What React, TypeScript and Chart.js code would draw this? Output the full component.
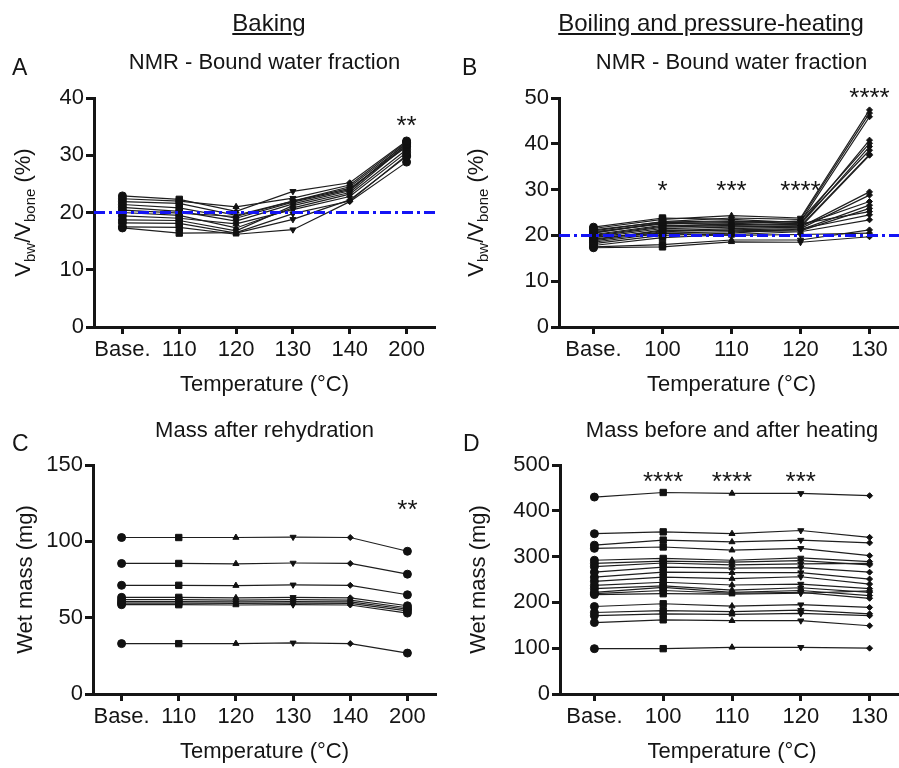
import React, { useEffect, useRef } from "react";
import { Chart, registerables } from "chart.js";

Chart.register(...registerables);

const FONT = '"Liberation Sans", Arial, Helvetica, sans-serif';
const INK = "#151515";

// ---------- categories ----------
const bakingCategories = ["Base.", "110", "120", "130", "140", "200"];
const boilingCategories = ["Base.", "100", "110", "120", "130"];

// ---------- tick settings ----------
const nmrBakingTicks = { max: 40, step: 10 };
const nmrBoilingTicks = { max: 50, step: 10 };
const massRehydTicks = { max: 150, step: 50 };
const massHeatTicks = { max: 500, step: 100 };

// ---------- A: NMR bound water fraction, baking (%) ----------
const nmrBaking: number[][] = [
  [22.9, 22.3, 20.2, 23.7, 25.2, 32.5],
  [22.4, 22.0, 21.0, 22.5, 24.8, 32.3],
  [21.9, 21.6, 19.5, 22.0, 24.5, 32.0],
  [21.4, 20.8, 19.0, 21.8, 24.0, 31.8],
  [20.9, 20.2, 18.5, 21.5, 23.8, 32.2],
  [20.4, 19.9, 19.3, 22.0, 24.2, 31.5],
  [20.0, 19.5, 17.3, 20.8, 23.2, 31.0],
  [19.4, 19.0, 18.0, 20.5, 22.8, 30.5],
  [18.7, 18.6, 16.8, 21.2, 23.5, 31.8],
  [18.2, 18.1, 16.4, 18.8, 22.2, 29.8],
  [17.5, 17.4, 16.2, 17.0, 21.9, 28.8],
  [17.3, 16.4, 16.5, 19.8, 22.0, 30.0],
];
const nmrBakingStars = ["", "", "", "", "", "**"];
const nmrBakingStarLevels = [0, 0, 0, 0, 0, 36.0];
const nmrBakingReference = 20;

// ---------- B: NMR bound water fraction, boiling/pressure (%) ----------
const nmrBoiling: number[][] = [
  [21.5, 23.5, 24.3, 23.8, 47.4],
  [21.0, 23.0, 23.8, 23.5, 46.7],
  [20.5, 22.8, 23.0, 23.0, 45.9],
  [20.8, 22.5, 22.8, 22.6, 40.8],
  [20.0, 22.0, 22.5, 23.2, 40.1],
  [19.8, 21.8, 22.2, 22.4, 39.4],
  [21.8, 23.8, 23.5, 22.8, 38.6],
  [19.5, 21.5, 21.8, 22.0, 37.7],
  [20.2, 22.2, 22.0, 21.8, 37.5],
  [19.2, 21.0, 21.5, 21.8, 29.5],
  [18.8, 20.8, 21.2, 21.5, 28.8],
  [20.6, 22.6, 22.4, 22.2, 27.4],
  [19.0, 21.2, 21.0, 21.2, 26.6],
  [18.5, 20.5, 20.8, 21.0, 25.9],
  [21.2, 22.9, 23.2, 22.5, 25.2],
  [18.2, 20.0, 20.5, 21.4, 24.5],
  [17.8, 19.5, 20.2, 20.8, 23.4],
  [17.5, 18.0, 19.0, 19.0, 21.2],
  [17.3, 17.5, 18.6, 18.5, 19.7],
  [19.6, 20.5, 20.0, 20.2, 20.5],
];
const nmrBoilingStars = ["", "*", "***", "****", "****"];
const nmrBoilingStarLevels = [0, 30.8, 30.8, 30.8, 51.2];
const nmrBoilingReference = 20;

// ---------- C: mass after rehydration (mg) ----------
const massRehyd: number[][] = [
  [102.5, 102.5, 102.5, 102.8, 102.5, 93.5],
  [85.5, 85.5, 85.3, 85.8, 85.5, 78.5],
  [71.2, 71.2, 71.0, 71.5, 71.2, 65.0],
  [63.3, 63.3, 63.0, 63.3, 63.0, 57.8],
  [61.8, 61.8, 61.5, 61.8, 61.5, 56.5],
  [60.5, 60.5, 60.3, 60.5, 60.3, 55.5],
  [59.5, 59.5, 59.3, 59.5, 59.3, 54.5],
  [58.5, 58.5, 58.3, 58.5, 58.3, 53.0],
  [33.0, 33.0, 33.0, 33.5, 33.0, 26.8],
];
const massRehydStars = ["", "", "", "", "", "**"];
const massRehydStarLevels = [0, 0, 0, 0, 0, 123.8];

// ---------- D: mass before and after heating (mg) ----------
const massHeat: number[][] = [
  [430, 440, 438, 438, 433],
  [350, 354, 350, 357, 342],
  [325, 336, 332, 336, 330],
  [318, 321, 314, 318, 302],
  [292, 296, 292, 297, 289],
  [285, 290, 288, 291, 282],
  [278, 286, 282, 284, 285],
  [266, 277, 275, 276, 266],
  [255, 266, 265, 265, 251],
  [246, 255, 252, 256, 240],
  [237, 244, 238, 240, 230],
  [230, 236, 227, 232, 222],
  [222, 233, 222, 226, 215],
  [219, 226, 220, 222, 209],
  [217, 219, 218, 220, 225],
  [191, 197, 192, 195, 189],
  [178, 182, 180, 183, 175],
  [171, 175, 174, 176, 171],
  [156, 162, 160, 160, 149],
  [99, 99, 102, 102, 100],
];
const massHeatStars = ["", "****", "****", "***", ""];
const massHeatStarLevels = [0, 474.8, 474.8, 474.8, 0];

// ---------- symbols per column (GraphPad style) ----------
const styles6 = ["circle", "rect", "triangle", "triangle", "rectRot", "circle"];
const rot6 = [0, 0, 0, 180, 0, 0];
const rad6 = [4, 4.5, 3.5, 3.5, 3, 4];
const styles5 = ["circle", "rect", "triangle", "triangle", "rectRot"];
const rot5 = [0, 0, 0, 180, 0];
const rad5 = [4, 4.5, 3.5, 3.5, 3];

const richYTitle = [
  { t: "V", sub: false },
  { t: "bw", sub: true },
  { t: "/V", sub: false },
  { t: "bone", sub: true },
  { t: " (%)", sub: false },
];

const extrasPlugin = {
  id: "panelExtras",
  afterDatasetsDraw(chart: any, _args: any, opts: any) {
    const { ctx, chartArea, scales } = chart;
    const x = scales.x;
    const y = scales.y;
    if (opts.refLine != null) {
      const py = y.getPixelForValue(opts.refLine);
      ctx.save();
      ctx.strokeStyle = "#1414f5";
      ctx.lineWidth = 3;
      ctx.setLineDash([11, 4, 3, 4]);
      ctx.beginPath();
      ctx.moveTo(chartArea.left, py);
      ctx.lineTo(chartArea.right, py);
      ctx.stroke();
      ctx.restore();
    }
  },
  afterDraw(chart: any, _args: any, opts: any) {
    const { ctx, chartArea, scales } = chart;
    const x = scales.x;
    const y = scales.y;
    if (opts.stars) {
      ctx.save();
      ctx.font = `26px ${FONT}`;
      ctx.fillStyle = INK;
      ctx.textAlign = "center";
      ctx.textBaseline = "alphabetic";
      const m = ctx.measureText("*");
      const off = (m.actualBoundingBoxAscent - m.actualBoundingBoxDescent) / 2;
      opts.stars.forEach((s: string, i: number) => {
        if (!s) return;
        const px = x.getPixelForValue(i);
        const py = y.getPixelForValue(opts.starLevels[i]);
        ctx.fillText(s, px, py + off);
      });
      ctx.restore();
    }
    if (opts.richTitleX != null) {
      ctx.save();
      const cy = (chartArea.top + chartArea.bottom) / 2;
      const main = `22px ${FONT}`;
      const small = `15px ${FONT}`;
      let total = 0;
      const widths = richYTitle.map((seg) => {
        ctx.font = seg.sub ? small : main;
        const w = ctx.measureText(seg.t).width;
        total += w;
        return w;
      });
      ctx.translate(opts.richTitleX, cy);
      ctx.rotate(-Math.PI / 2);
      ctx.fillStyle = INK;
      ctx.textBaseline = "alphabetic";
      ctx.textAlign = "left";
      let cx = -total / 2;
      richYTitle.forEach((seg, i) => {
        ctx.font = seg.sub ? small : main;
        ctx.fillText(seg.t, cx, seg.sub ? 5 : 0);
        cx += widths[i];
      });
      ctx.restore();
    }
  },
};

type PanelSpec = {
  labels: string[];
  series: number[][];
  ticks: { max: number; step: number };
  title: string;
  yTitle?: string;
  yTitlePad?: number;
  richTitleX?: number;
  refLine?: number;
  stars: string[];
  starLevels: number[];
  yWidth: number;
  xHeight: number;
  padding: { left: number; right: number; top: number; bottom: number };
  titlePad: { top: number; bottom: number };
  xTitlePadBottom: number;
};

function buildConfig(p: PanelSpec): any {
  const six = p.labels.length === 6;
  const datasets = p.series.map((s) => ({
    data: s,
    borderColor: "#1e1e1e",
    borderWidth: 1.2,
    pointStyle: six ? styles6 : styles5,
    pointRotation: six ? rot6 : rot5,
    pointRadius: six ? rad6 : rad5,
    pointBackgroundColor: "#111",
    pointBorderColor: "#111",
    pointBorderWidth: 1,
    fill: false,
    tension: 0,
  }));
  const tickFont = { family: FONT, size: 22 };
  return {
    type: "line",
    data: { labels: p.labels, datasets },
    plugins: [extrasPlugin],
    options: {
      responsive: false,
      animation: false,
      devicePixelRatio: 1,
      layout: { padding: p.padding },
      plugins: {
        legend: { display: false },
        tooltip: { enabled: false },
        title: {
          display: true,
          text: p.title,
          fullSize: false,
          color: INK,
          font: { family: FONT, size: 22, weight: "normal" },
          padding: p.titlePad,
        },
        panelExtras: {
          refLine: p.refLine,
          stars: p.stars,
          starLevels: p.starLevels,
          richTitleX: p.richTitleX,
        },
      },
      scales: {
        x: {
          type: "category",
          offset: true,
          grid: {
            display: true,
            drawOnChartArea: false,
            drawTicks: true,
            tickLength: 7,
            tickWidth: 3,
            tickColor: INK,
            offset: false,
          },
          border: { display: true, width: 3, color: INK },
          ticks: { color: INK, font: tickFont, padding: 3, maxRotation: 0, autoSkip: false },
          title: {
            display: true,
            text: "Temperature (°C)",
            color: INK,
            font: tickFont,
            padding: { top: 0, bottom: p.xTitlePadBottom },
          },
          afterFit: (s: any) => {
            s.height = p.xHeight;
          },
        },
        y: {
          min: 0,
          max: p.ticks.max,
          grid: {
            display: true,
            drawOnChartArea: false,
            drawTicks: true,
            tickLength: 8,
            tickWidth: 3,
            tickColor: INK,
          },
          border: { display: true, width: 3, color: INK },
          ticks: { stepSize: p.ticks.step, color: INK, font: tickFont, padding: 2 },
          title: p.yTitle
            ? {
                display: true,
                text: p.yTitle,
                color: INK,
                font: tickFont,
                padding: { top: p.yTitlePad ?? 0, bottom: 0 },
              }
            : { display: false },
          afterFit: (s: any) => {
            s.width = p.yWidth;
          },
        },
      },
    },
  };
}

function Panel(props: { left: number; top: number; width: number; height: number; spec: PanelSpec }) {
  const ref = useRef<HTMLCanvasElement>(null);
  useEffect(() => {
    const chart = new Chart(ref.current as HTMLCanvasElement, buildConfig(props.spec));
    return () => chart.destroy();
  }, []);
  return (
    <canvas
      ref={ref}
      width={props.width}
      height={props.height}
      style={{
        position: "absolute",
        left: props.left,
        top: props.top,
        width: props.width,
        height: props.height,
      }}
    />
  );
}

const specA: PanelSpec = {
  labels: bakingCategories,
  series: nmrBaking,
  ticks: nmrBakingTicks,
  title: "NMR - Bound water fraction",
  richTitleX: 30,
  refLine: nmrBakingReference,
  stars: nmrBakingStars,
  starLevels: nmrBakingStarLevels,
  yWidth: 94,
  xHeight: 73,
  padding: { left: 0, right: 15, top: 40, bottom: 0 },
  titlePad: { top: 10, bottom: 21.6 },
  xTitlePadBottom: 1.8,
};

const specB: PanelSpec = {
  labels: boilingCategories,
  series: nmrBoiling,
  ticks: nmrBoilingTicks,
  title: "NMR - Bound water fraction",
  richTitleX: 33,
  refLine: nmrBoilingReference,
  stars: nmrBoilingStars,
  starLevels: nmrBoilingStarLevels,
  yWidth: 109,
  xHeight: 73,
  padding: { left: 0, right: 6, top: 40, bottom: 0 },
  titlePad: { top: 10, bottom: 21.6 },
  xTitlePadBottom: 1.8,
};

const specC: PanelSpec = {
  labels: bakingCategories,
  series: massRehyd,
  ticks: massRehydTicks,
  title: "Mass after rehydration",
  yTitle: "Wet mass (mg)",
  yTitlePad: 13,
  stars: massRehydStars,
  starLevels: massRehydStarLevels,
  yWidth: 93,
  xHeight: 74,
  padding: { left: 0, right: 14, top: 5, bottom: 0 },
  titlePad: { top: 12.8, bottom: 20.8 },
  xTitlePadBottom: 2.8,
};

const specD: PanelSpec = {
  labels: boilingCategories,
  series: massHeat,
  ticks: massHeatTicks,
  title: "Mass before and after heating",
  yTitle: "Wet mass (mg)",
  yTitlePad: 16,
  stars: massHeatStars,
  starLevels: massHeatStarLevels,
  yWidth: 110,
  xHeight: 74,
  padding: { left: 0, right: 6, top: 5, bottom: 0 },
  titlePad: { top: 12.8, bottom: 20.8 },
  xTitlePadBottom: 2.8,
};

const textBase: React.CSSProperties = {
  position: "absolute",
  fontFamily: FONT,
  color: INK,
  whiteSpace: "nowrap",
};

export default function App() {
  return (
    <div
      style={{
        position: "absolute",
        left: 0,
        top: 0,
        width: 899,
        height: 768,
        overflow: "hidden",
        background: "#ffffff",
      }}
    >
      <Panel left={0} top={0} width={450} height={400} spec={specA} />
      <Panel left={450} top={0} width={460} height={400} spec={specB} />
      <Panel left={0} top={400} width={450} height={368} spec={specC} />
      <Panel left={450} top={400} width={460} height={368} spec={specD} />

      <div
        style={{
          ...textBase,
          left: 269,
          top: 9,
          transform: "translateX(-50%)",
          fontSize: 24,
          lineHeight: "28px",
          textDecoration: "underline",
        }}
      >
        Baking
      </div>
      <div
        style={{
          ...textBase,
          left: 711,
          top: 9,
          transform: "translateX(-50%)",
          fontSize: 24,
          lineHeight: "28px",
          textDecoration: "underline",
        }}
      >
        Boiling and pressure-heating
      </div>

      <div style={{ ...textBase, left: 12, top: 54, fontSize: 23, lineHeight: "26px" }}>A</div>
      <div style={{ ...textBase, left: 462, top: 54, fontSize: 23, lineHeight: "26px" }}>B</div>
      <div style={{ ...textBase, left: 12, top: 430, fontSize: 23, lineHeight: "26px" }}>C</div>
      <div style={{ ...textBase, left: 463, top: 430, fontSize: 23, lineHeight: "26px" }}>D</div>
    </div>
  );
}
